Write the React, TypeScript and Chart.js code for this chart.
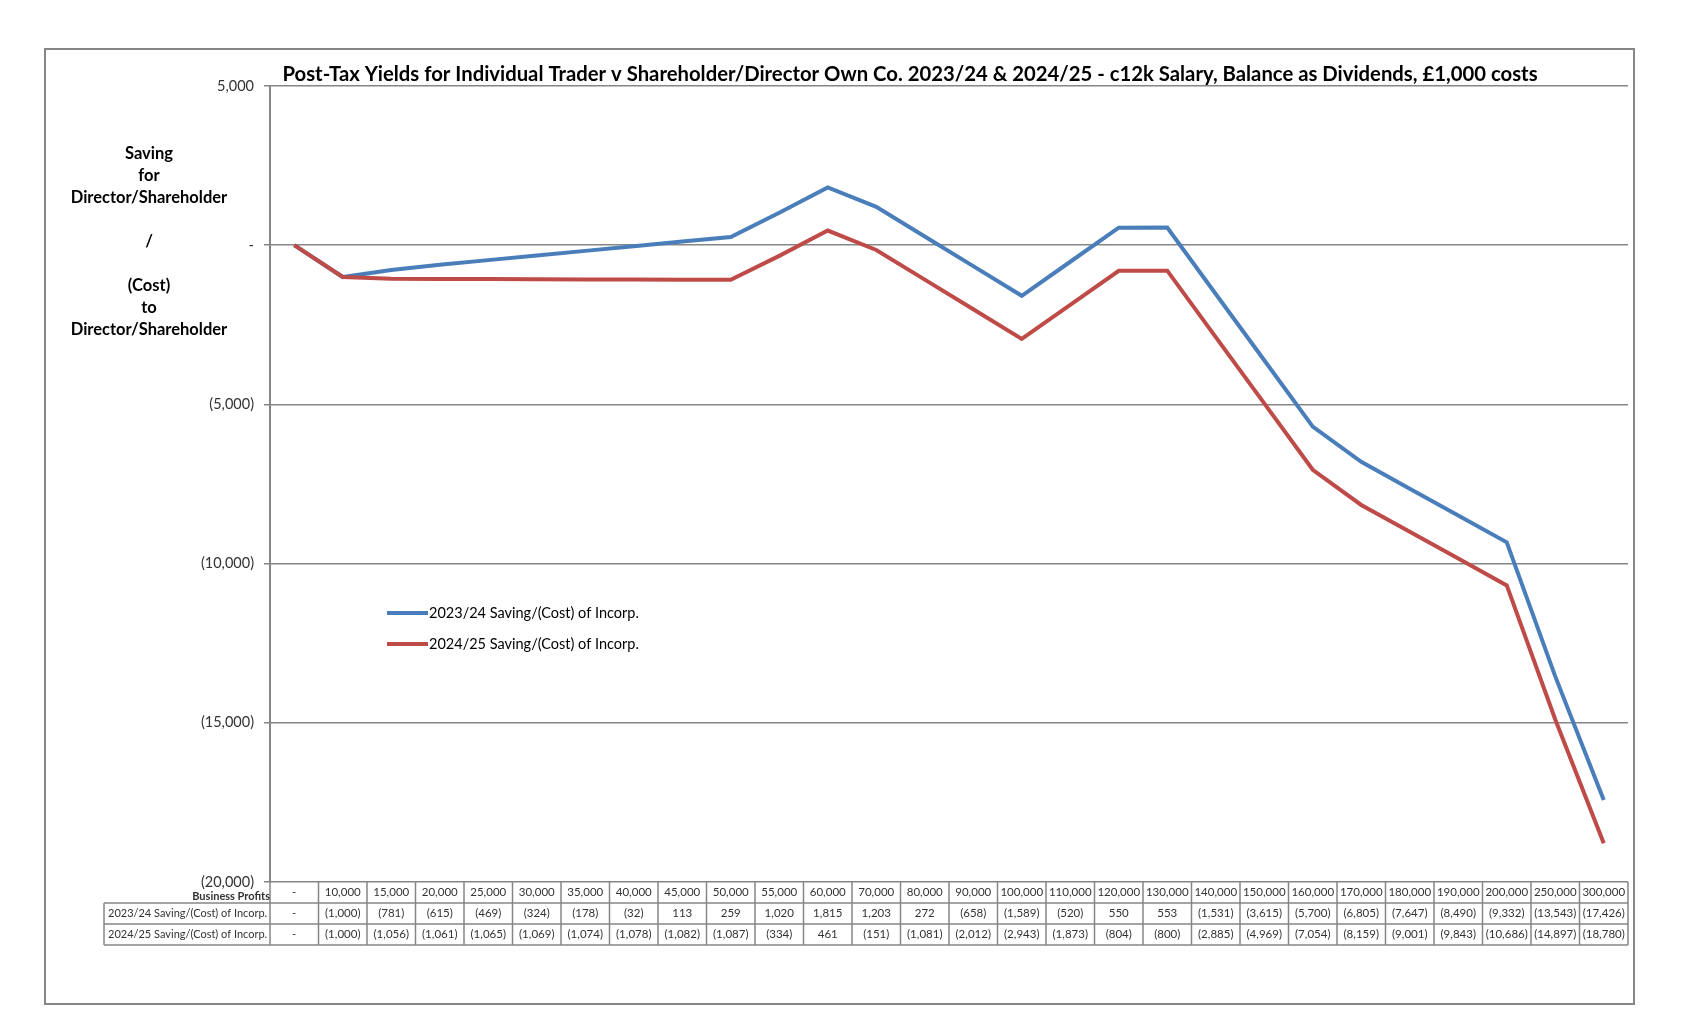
import React, { useEffect, useRef } from 'react';
import { Chart, registerables } from 'chart.js';

Chart.register(...registerables);

const TITLE = 'Post-Tax Yields for Individual Trader v Shareholder/Director Own Co. 2023/24 & 2024/25 - c12k Salary, Balance as Dividends, £1,000 costs';
const Y_TITLE_LINES = ['Saving', 'for', 'Director/Shareholder', '', '/', '', '(Cost)', 'to', 'Director/Shareholder'];
const TABLE_HEADER = 'Business Profits';

const businessProfits = [0, 10000, 15000, 20000, 25000, 30000, 35000, 40000, 45000, 50000, 55000, 60000, 70000, 80000, 90000, 100000, 110000, 120000, 130000, 140000, 150000, 160000, 170000, 180000, 190000, 200000, 250000, 300000];
const seriesNames = ['2023/24 Saving/(Cost) of Incorp.', '2024/25 Saving/(Cost) of Incorp.'];
const saving2324 = [0, -1000, -781, -615, -469, -324, -178, -32, 113, 259, 1020, 1815, 1203, 272, -658, -1589, -520, 550, 553, -1531, -3615, -5700, -6805, -7647, -8490, -9332, -13543, -17426];
const saving2425 = [0, -1000, -1056, -1061, -1065, -1069, -1074, -1078, -1082, -1087, -334, 461, -151, -1081, -2012, -2943, -1873, -804, -800, -2885, -4969, -7054, -8159, -9001, -9843, -10686, -14897, -18780];
const seriesColors = ['#4A7EBB', '#BE4B48'];
const yMin = -20000;
const yMax = 5000;
const yStep = 5000;

const FONT = 'Lato, "Liberation Sans", sans-serif';
const GRID = '#868686';

function fmt(v: number): string {
  if (v === 0) return '-';
  const s = Math.abs(v).toLocaleString('en-US');
  return v < 0 ? `(${s})` : s;
}

const labels = businessProfits.map(fmt);

const overlayPlugin = {
  id: 'overlay',
  afterDraw(chart: any) {
    const ctx: CanvasRenderingContext2D = chart.ctx;
    const ca = chart.chartArea;
    const xs = chart.scales.x;
    ctx.save();

    // outer chart border
    ctx.strokeStyle = GRID;
    ctx.lineWidth = 2;
    ctx.strokeRect(45, 49, 1589, 955);

    // title
    ctx.fillStyle = '#000';
    ctx.font = `bold 20.3px ${FONT}`;
    ctx.textAlign = 'center';
    ctx.textBaseline = 'middle';
    ctx.fillText(TITLE, 910, 74);

    // y-axis title
    ctx.font = `bold 16.5px ${FONT}`;
    Y_TITLE_LINES.forEach((l, i) => {
      if (l) ctx.fillText(l, 149, 154 + i * 22);
    });

    // legend
    ctx.textAlign = 'left';
    ctx.font = `14.5px ${FONT}`;
    seriesNames.forEach((name, i) => {
      const y = 613 + i * 31;
      ctx.strokeStyle = seriesColors[i];
      ctx.lineWidth = 4;
      ctx.beginPath();
      ctx.moveTo(387, y);
      ctx.lineTo(428, y);
      ctx.stroke();
      ctx.fillStyle = '#000';
      ctx.fillText(name, 429, y);
    });

    // data table
    const n = labels.length;
    const colW = (ca.right - ca.left) / n;
    const rowH = 21;
    const top = ca.bottom;
    const labelLeft = 104;
    ctx.strokeStyle = GRID;
    ctx.lineWidth = 1.5;
    ctx.beginPath();
    for (let r = 1; r <= 3; r++) {
      ctx.moveTo(labelLeft, top + r * rowH);
      ctx.lineTo(ca.right, top + r * rowH);
    }
    ctx.moveTo(labelLeft, top + rowH);
    ctx.lineTo(labelLeft, top + 3 * rowH);
    for (let i = 0; i <= n; i++) {
      const x = ca.left + i * colW;
      ctx.moveTo(x, top);
      ctx.lineTo(x, top + 3 * rowH);
    }
    ctx.stroke();

    ctx.fillStyle = '#333';
    ctx.textAlign = 'right';
    ctx.font = `bold 11px ${FONT}`;
    ctx.fillText(TABLE_HEADER, ca.left, top + 14);
    ctx.textAlign = 'left';
    ctx.font = `11px ${FONT}`;
    seriesNames.forEach((name, i) => {
      ctx.fillText(name, labelLeft + 4, top + (i + 1.5) * rowH);
    });
    ctx.font = `11.5px ${FONT}`;
    ctx.textAlign = 'center';
    const rows = [businessProfits, saving2324, saving2425];
    rows.forEach((arr, r) => {
      arr.forEach((v, i) => {
        const cx = xs.getPixelForValue(i);
        ctx.fillText(fmt(v), cx, top + (r + 0.5) * rowH);
      });
    });

    ctx.restore();
  },
};

export default function App() {
  const ref = useRef<HTMLCanvasElement | null>(null);
  useEffect(() => {
    if (!ref.current) return;
    const chart = new Chart(ref.current, {
      type: 'line',
      data: {
        labels,
        datasets: [
          {
            label: seriesNames[0],
            data: saving2324,
            borderColor: seriesColors[0],
            backgroundColor: seriesColors[0],
            borderWidth: 4,
            pointRadius: 0,
            tension: 0,
            order: 1,
          },
          {
            label: seriesNames[1],
            data: saving2425,
            borderColor: seriesColors[1],
            backgroundColor: seriesColors[1],
            borderWidth: 4,
            pointRadius: 0,
            tension: 0,
            order: 0,
          },
        ],
      },
      options: {
        responsive: false,
        animation: false,
        devicePixelRatio: 1,
        layout: { padding: { left: 0, top: 86, right: 58, bottom: 154 } },
        plugins: {
          legend: { display: false },
          title: { display: false },
          tooltip: { enabled: false },
        },
        scales: {
          x: {
            type: 'category',
            display: false,
            offset: true,
          },
          y: {
            min: yMin,
            max: yMax,
            afterFit: (s: any) => {
              s.width = 270;
            },
            ticks: {
              stepSize: yStep,
              padding: 10,
              color: '#333',
              font: { family: FONT, size: 14.5 },
              callback: (v: any) => fmt(Number(v)),
            },
            grid: {
              color: GRID,
              lineWidth: 1.5,
              tickLength: 6,
            },
            border: { color: GRID, width: 2 },
          },
        },
      },
      plugins: [overlayPlugin],
    });
    return () => chart.destroy();
  }, []);
  return (
    <div style={{ position: 'absolute', left: 0, top: 0, width: 1686, height: 1036, background: '#fff' }}>
      <canvas ref={ref} width={1686} height={1036} style={{ width: 1686, height: 1036 }} />
    </div>
  );
}
